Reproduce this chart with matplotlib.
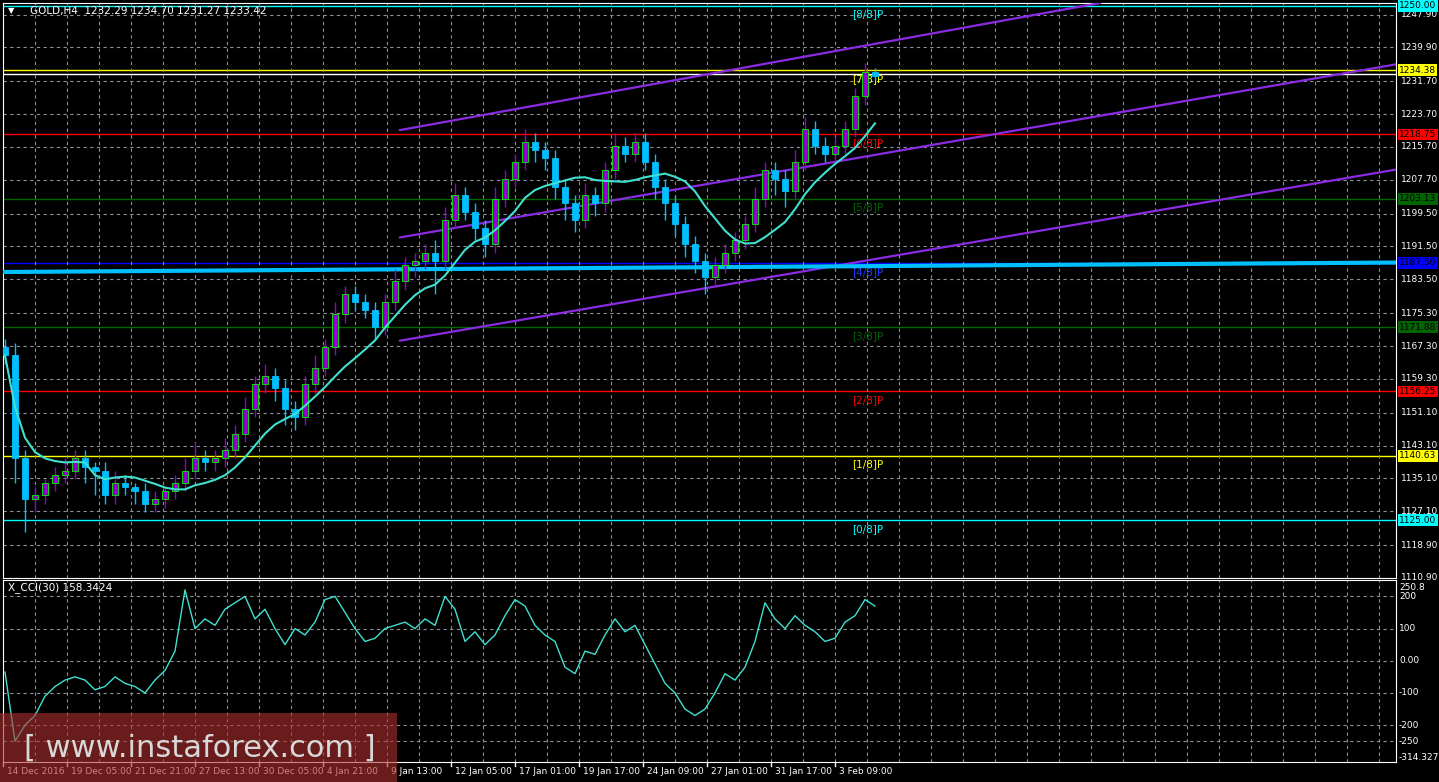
import numpy as np
import pandas as pd
import matplotlib
matplotlib.use("Agg")
import matplotlib.pyplot as plt
from matplotlib.patches import Rectangle

# closes of GOLD H4 (compressed, ~2.5 bars per point)
closes = [1165, 1140, 1130, 1131, 1134, 1136, 1137, 1140, 1138, 1137, 1131, 1134, 1133, 1132, 1129,
          1130, 1132, 1134, 1137, 1140, 1139, 1140, 1142, 1146, 1152, 1158, 1160, 1157, 1152, 1150,
          1158, 1162, 1167, 1175, 1180, 1178, 1176, 1172, 1178, 1183, 1187, 1188, 1190, 1188, 1198,
          1204, 1200, 1196, 1192, 1203, 1208, 1212, 1217, 1215, 1213, 1206, 1202, 1198, 1204, 1202,
          1210, 1216, 1214, 1217, 1212, 1206, 1202, 1197, 1192, 1188, 1184, 1187, 1190, 1193, 1197,
          1203, 1210, 1208, 1205, 1212, 1220, 1216, 1214, 1216, 1220, 1228, 1234, 1233]
wick_up = [2, 3, 2, 2, 1, 2, 3, 2, 2, 1, 2, 3, 2, 1, 2, 2, 1, 2, 3, 4, 2, 2, 3, 2, 3, 2, 3, 2, 2, 2,
           2, 3, 2, 3, 2, 2, 2, 2, 2, 3, 2, 2, 2, 3, 3, 3, 2, 2, 2, 3, 2, 2, 3, 2, 2, 2, 2, 2, 3, 2,
           2, 3, 2, 2, 2, 2, 2, 2, 2, 2, 2, 2, 2, 2, 2, 3, 2, 2, 2, 3, 3, 2, 2, 2, 2, 2, 2, 1]
wick_dn = [2, 6, 8, 3, 2, 2, 2, 2, 4, 6, 2, 2, 2, 3, 2, 2, 2, 2, 2, 2, 2, 2, 2, 2, 2, 2, 2, 3, 4, 3,
           2, 2, 2, 2, 2, 2, 2, 3, 2, 2, 2, 3, 2, 8, 2, 2, 2, 3, 3, 2, 2, 2, 2, 3, 3, 3, 4, 3, 2, 3,
           2, 2, 2, 2, 2, 3, 4, 3, 3, 3, 4, 2, 2, 2, 2, 2, 2, 4, 4, 2, 2, 2, 2, 2, 2, 2, 2, 1]
cci = [-35, -250, -200, -170, -110, -80, -60, -50, -60, -90, -80, -50, -70, -80, -100, -60, -30, 30,
       220, 100, 130, 110, 160, 180, 200, 130, 160, 100, 50, 100, 80, 120, 190, 200, 150, 100, 60,
       70, 100, 110, 120, 100, 130, 110, 200, 160, 60, 90, 50, 80, 140, 190, 170, 110, 80, 60, -20,
       -40, 30, 20, 80, 130, 90, 110, 50, -10, -70, -100, -150, -170, -150, -100, -40, -60, -20, 60,
       180, 130, 100, 140, 110, 90, 60, 70, 120, 140, 190, 170]

levels = [1250.00, 1234.38, 1218.75, 1203.13, 1187.50, 1171.88, 1156.25, 1140.63, 1125.00]
level_names = ["[8/8]P", "[7/8]P", "[6/8]P", "[5/8]P", "[4/8]P", "[3/8]P", "[2/8]P", "[1/8]P", "[0/8]P"]
level_colors = ["#00ffff", "#ffff00", "#ff0000", "#006400", "#0000ff", "#006400", "#ff0000", "#ffff00", "#00ffff"]

price_ticks = [1247.90, 1239.90, 1231.70, 1223.70, 1215.70, 1207.70, 1199.50, 1191.50, 1183.50,
               1175.30, 1167.30, 1159.30, 1151.10, 1143.10, 1135.10, 1127.10, 1118.90, 1110.90]
time_labels = ["14 Dec 2016", "19 Dec 05:00", "21 Dec 21:00", "27 Dec 13:00", "30 Dec 05:00",
               "4 Jan 21:00", "9 Jan 13:00", "12 Jan 05:00", "17 Jan 01:00", "19 Jan 17:00",
               "24 Jan 09:00", "27 Jan 01:00", "31 Jan 17:00", "3 Feb 09:00"]

# channel lines: (x index, price) start and end
channels = [((39.5, 1219.8), (109.5, 1250.7)),
            ((39.5, 1193.7), (143.4, 1237.6)),
            ((39.5, 1168.6), (143.4, 1212.0))]

W, H = 1439, 782
fig = plt.figure(figsize=(W / 100, H / 100), dpi=100, facecolor="black")

def px(x):  # pixel -> index
    return (x - 5) / 10.0

ax = fig.add_axes([3 / W, (H - 578) / H, 1393 / W, 575 / H], facecolor="black")
ax2 = fig.add_axes([3 / W, (H - 762) / H, 1393 / W, 182 / H], facecolor="black")
for a in (ax, ax2):
    for s in a.spines.values():
        s.set_color("white")
    a.set_xticks([px(x) for x in range(35, 1396, 32)])
    a.grid(True, color="#8a8f99", linestyle=(0, (3, 3)), linewidth=0.8)
    a.tick_params(length=0, labelbottom=False, labelleft=False, labelright=False)

ax.set_yticks(price_ticks)
ax2.set_yticks([200, 100, 0, -100, -200, -250])

# murrey levels
for lv, col in zip(levels, level_colors):
    ax.axhline(lv, color=col, linewidth=1, zorder=1)
ax.axhline(1233.42, color="white", linewidth=1, zorder=1)
for lv, nm, col in zip(levels, level_names, level_colors):
    c = col if col != "#0000ff" else "#1e3cff"
    ax.text(px(852), lv - 0.9, nm, color=c, fontsize=7.5, va="top", zorder=2)

# channel
for (p1, p2) in channels:
    ax.plot([p1[0], p2[0]], [p1[1], p2[1]], color="#8a2be2", linewidth=1.6, zorder=3)
ax.plot([px(3), px(1396)], [1185.3, 1187.6], color="#00bfff", linewidth=3, zorder=3)

# candles
idx = np.arange(len(closes))
opens = [closes[0] + 2] + closes[:-1]
for i in idx:
    o, c = opens[i], closes[i]
    hi = max(o, c) + wick_up[i]
    lo = min(o, c) - wick_dn[i]
    col = "#9400d3" if c >= o else "#00bfff"
    ax.vlines(i, lo, hi, color=col, linewidth=1, zorder=4)
    ax.add_patch(Rectangle((i - 0.3, min(o, c)), 0.6, max(abs(c - o), 0.4),
                           facecolor=col, edgecolor="#00ff00" if c >= o else col, linewidth=0.6, zorder=5))

ma = pd.Series(closes).rolling(9, min_periods=1).mean()
ax.plot(idx, ma, color="#40e0d0", linewidth=1.5, zorder=6)

ax2.plot(idx, cci, color="#40e0d0", linewidth=1)

for a in (ax, ax2):
    a.set_xlim(px(3), px(1396))
ax.set_ylim(1110.9, 1250.7)
ax2.set_ylim(-314.33, 250.8)

# texts
fig.text(30 / W, 1 - 11 / H, "GOLD,H4  1232.29 1234.70 1231.27 1233.42", color="white", fontsize=7.5, va="center")
fig.text(8 / W, 1 - 11 / H, "\u25bc", color="white", fontsize=6, va="center")
fig.text(8 / W, 1 - 588 / H, "X_CCI(30) 158.3424", color="white", fontsize=7.5, va="center")

y0, y1 = 1250.7, 1110.9
def ypix(p):
    return 3 + (y0 - p) / (y0 - y1) * 575
for t in price_ticks:
    fig.text(1401 / W, 1 - ypix(t) / H, f"{t:.2f}", color="white", fontsize=6.5, va="center")
for lv, col in zip(levels, level_colors):
    fig.text(1399 / W, 1 - ypix(lv) / H, f"{lv:.2f}", color="black", fontsize=6.5, va="center",
             bbox=dict(boxstyle="square,pad=0.15", facecolor=col, edgecolor="none"))

def cpix(v):
    return 580 + (250.8 - v) / (250.8 + 314.33) * 182
for v, s in [(250.8, "250.8"), (200, "200"), (100, "100"), (0, "0.00"), (-100, "-100"),
             (-200, "-200"), (-250, "-250"), (-314.33, "-314.3276")]:
    fig.text(1399 / W, 1 - (cpix(v) + (8 if v > 240 else 0) - (4 if v < -300 else 0)) / H, s,
             color="white", fontsize=6.5, va="center")

for k, lab in enumerate(time_labels):
    x = 3 + 64 * k
    fig.text((x + 4) / W, 1 - 771 / H, lab, color="white", fontsize=6.5, va="center")
    fig.add_artist(plt.Line2D([x / W, x / W], [1 - 762 / H, 1 - 766 / H], color="white", linewidth=1))

# watermark
fig.add_artist(Rectangle((0, 0), 397 / W, 69 / H, transform=fig.transFigure,
                         facecolor="#b03030", alpha=0.6, edgecolor="none", zorder=10))
fig.text(200 / W, 34 / H, "[ www.instaforex.com ]", color="#d8d8d8", fontsize=22,
         ha="center", va="center", zorder=11)

fig.savefig("out.png", dpi=100, facecolor="black")
